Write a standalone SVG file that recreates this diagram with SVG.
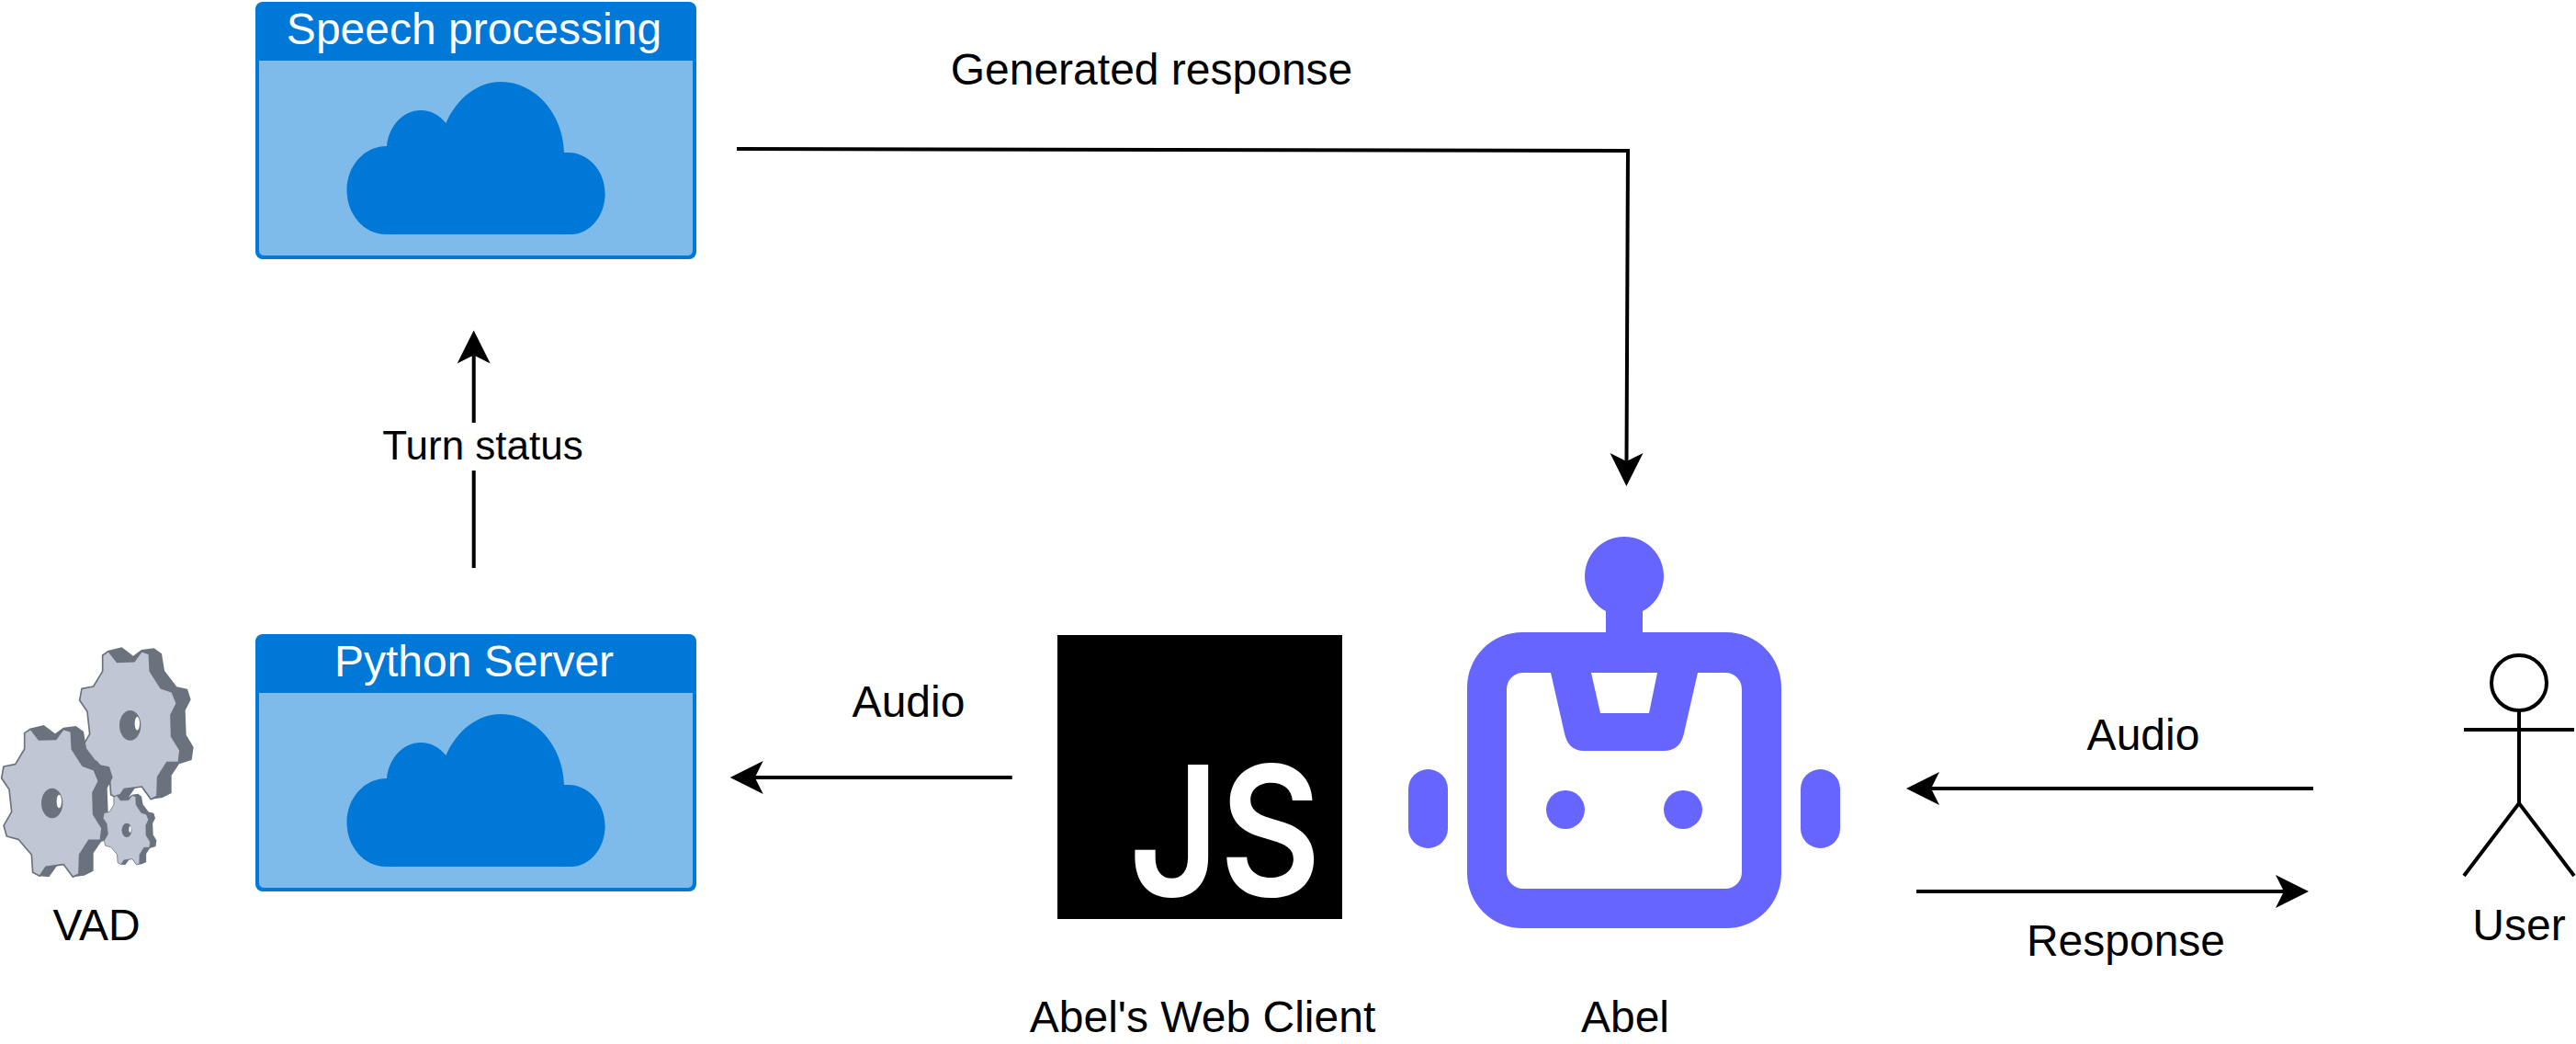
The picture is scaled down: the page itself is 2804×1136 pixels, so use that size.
<svg xmlns="http://www.w3.org/2000/svg" xmlns:xlink="http://www.w3.org/1999/xlink" width="2804" height="1136" viewBox="0 0 2804 1136">
  <style>
    text { font-family: "Liberation Sans", Arial, sans-serif; font-size: 48px; fill: #000; text-anchor: middle; }
    .small { font-size: 44px; }
    .hdr { fill: #fff; }
    .js { font-family: Inter, "Liberation Sans", sans-serif; font-weight: 600; font-size: 197px; fill: #fff; text-anchor: start; }
    .edge { fill: none; stroke: #000; stroke-width: 4; }
    .azure { fill: #0078D7; }
    .azure-l { fill: #7FBBEA; }
    .bot { fill: #6666FF; }
    .actor { fill: none; stroke: #000; stroke-width: 4; }
    .gear-d { fill: #69727D; }
    .gear-f { fill: #C0C6D3; stroke: #69727D; stroke-width: 5; stroke-linejoin: round; }
    .gear-h { fill: #69727D; }
  </style>
  <defs>
    <marker id="arrow" markerUnits="userSpaceOnUse" viewBox="0 0 36 36" markerWidth="36" markerHeight="36" refX="9" refY="18" orient="auto" overflow="visible">
      <path d="M36,18 L0,0 L9,18 L0,36 Z" fill="#000"/>
    </marker>
    <g id="cloudbox">
      <rect class="azure" x="278" y="2" width="480" height="280" rx="8"/>
      <path class="azure-l" d="M282,66 H754 V272 Q754,278 748,278 H288 Q282,278 282,272 Z"/>
      <path class="azure" d="M420,255 C396,255 377.5,233 377.5,207 C377.5,181 396,159 421,159 C423,137 439,120 458,120 C469,120 478,125 485.4,134 C497,107 520,89 545,89 C583,89 613,124 614,166 L618.6,166 C640,166 658.6,185 658.6,211 C658.6,236 641,255 622,255 Z"/>
    </g>
    <g id="gear">
      <polygon class="gear-d" points="80,383 97,368 143,357 180,385 207,365 248,360 273,378 282,433 322,486 357,493 368,528 350,563 353,643 377,683 371,725 330,738 305,775 305,833 275,848 238,853 208,812 187,815 160,853 130,850 120,600"/>
      <polygon class="gear-f" points="80,383 100,370 127,405 183,403 207,370 232,378 235,435 270,490 307,503 322,540 303,578 305,648 333,693 328,733 290,733 260,780 258,843 238,853 208,812 150,820 130,850 107,838 103,780 60,730 22,720 12,685 38,640 30,567 5,530 12,492 50,485 80,435"/>
      <ellipse class="gear-h" cx="170" cy="612" rx="35" ry="49"/>
      <ellipse cx="193" cy="606" rx="8" ry="22" fill="#fff"/>
    </g>
  </defs>

  <g id="connectors">
    <path id="edge-turn-status" class="edge" d="M515.7,618 L515.7,386.4" marker-end="url(#arrow)"/>
    <path id="edge-generated-response" class="edge" d="M802,162 L1772,164 L1770.5,502" marker-end="url(#arrow)"/>
    <path id="edge-audio-left" class="edge" d="M1101.7,846 L821.7,846" marker-end="url(#arrow)"/>
    <path id="edge-audio-right" class="edge" d="M2518,858 L2102,858" marker-end="url(#arrow)"/>
    <path id="edge-response" class="edge" d="M2086,970 L2486,970" marker-end="url(#arrow)"/>
  </g>

  <g id="edge-labels">
    <rect x="414" y="460" width="222" height="52" fill="#fff"/>
    <text class="small" x="525.5" y="499.5">Turn status</text>
    <text x="1253.5" y="91.5">Generated response</text>
    <text x="989" y="780">Audio</text>
    <text x="2333" y="815.5">Audio</text>
    <text x="2314" y="1040">Response</text>
  </g>

  <g id="speech-processing">
    <use href="#cloudbox" xlink:href="#cloudbox"/>
    <text class="hdr" x="516" y="47.5">Speech processing</text>
  </g>

  <g id="python-server">
    <use href="#cloudbox" xlink:href="#cloudbox" y="688"/>
    <text class="hdr" x="516" y="735.5">Python Server</text>
  </g>

  <g id="vad">
    <g transform="translate(0 670) scale(0.33333)">
      <use href="#gear" xlink:href="#gear" x="255" y="-254"/>
      <use href="#gear" xlink:href="#gear"/>
      <use href="#gear" xlink:href="#gear" transform="translate(334.1 412.4) scale(0.47)"/>
    </g>
    <text x="105" y="1023">VAD</text>
  </g>

  <g id="web-client">
    <rect x="1151" y="691" width="310" height="309" fill="#000"/>
    <text class="js" x="1229" y="975" textLength="209" lengthAdjust="spacingAndGlyphs">JS</text>
    <text x="1309" y="1123">Abel's Web Client</text>
  </g>

  <g id="abel">
    <path class="bot" fill-rule="evenodd" d="M1657,688 H1748 V665 A43,43 0 1 1 1788,665 V688 H1879 A60,60 0 0 1 1939,748 V950 A60,60 0 0 1 1879,1010 H1657 A60,60 0 0 1 1597,950 V748 A60,60 0 0 1 1657,688 Z M1658,732 A18,18 0 0 0 1640,750 V949 A18,18 0 0 0 1658,967 H1878 A18,18 0 0 0 1896,949 V750 A18,18 0 0 0 1878,732 H1848 L1833,798 Q1829,817 1811,817 H1724 Q1707,817 1703,798 L1688,732 Z M1732,732 L1742,776 H1795 L1804,732 Z"/>
    <circle class="bot" cx="1704" cy="881" r="21"/>
    <circle class="bot" cx="1832" cy="881" r="21"/>
    <rect class="bot" x="1533" y="837" width="43" height="86" rx="21.5"/>
    <rect class="bot" x="1960" y="837" width="43" height="86" rx="21.5"/>
    <text x="1769" y="1123">Abel</text>
  </g>

  <g id="user">
    <circle class="actor" cx="2742" cy="743" r="30"/>
    <path class="actor" d="M2742,773 V874 M2682,794 H2802 M2682,953 L2742,874 L2802,953"/>
    <text x="2742" y="1023">User</text>
  </g>
</svg>
